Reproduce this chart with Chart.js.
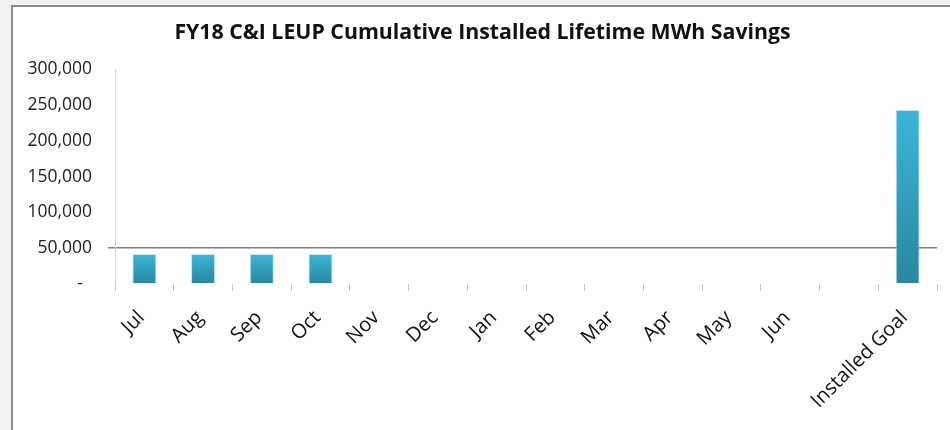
<!DOCTYPE html>
<html>
<head>
<meta charset="utf-8">
<script src="https://cdn.jsdelivr.net/npm/chart.js@4.4.0/dist/chart.umd.min.js"></script>
<style>
  html, body { margin: 0; padding: 0; background: #f1f1f1; }
  body { width: 950px; height: 430px; position: relative; overflow: hidden; }
  #frame {
    position: absolute; left: 11px; top: 5px; width: 960px; height: 450px;
    background: #fff; border-left: 2px solid #8c8c8c; border-top: 2px solid #8c8c8c;
  }
  #wrap { position: absolute; left: 0; top: 0; width: 950px; height: 430px; }
</style>
</head>
<body>
<div id="frame"></div>
<div id="wrap"><canvas id="chart" width="950" height="430"></canvas></div>
<script>
const months = ["Jul", "Aug", "Sep", "Oct", "Nov", "Dec", "Jan", "Feb", "Mar", "Apr", "May", "Jun", "", "Installed Goal"];
const savings = [42000, 42000, 42000, 42000, 0, 0, 0, 0, 0, 0, 0, 0, null, 243000];
const yTicks = [0, 50000, 100000, 150000, 200000, 250000, 300000];
const goalLine = 50000;

const fontFamily = "'Open Sans', 'DejaVu Sans', sans-serif";

// each bar gets its own top-to-bottom shading
function barGradient(context) {
  const chart = context.chart;
  const area = chart.chartArea;
  if (!area || context.raw == null) return "#33a9c9";
  const y = chart.scales.y;
  const top = y.getPixelForValue(context.raw);
  if (area.bottom - top < 1) return "#2a879f";
  const g = chart.ctx.createLinearGradient(0, top, 0, area.bottom);
  g.addColorStop(0, "#3bb6d9");
  g.addColorStop(1, "#2a879f");
  return g;
}

const ctx = document.getElementById("chart");
new Chart(ctx, {
  type: "bar",
  data: {
    labels: months,
    datasets: [
      {
        data: savings,
        backgroundColor: barGradient,
        borderColor: "rgba(170, 220, 236, 0.7)",
        borderWidth: 1,
        barPercentage: 0.41,
        categoryPercentage: 1,
      },
    ],
  },
  options: {
    responsive: false,
    animation: false,
    layout: { padding: { left: 28, right: 13, top: 0, bottom: 0 } },
    plugins: {
      legend: { display: false },
      tooltip: { enabled: false },
      title: {
        display: true,
        text: "FY18 C&I LEUP Cumulative Installed Lifetime MWh Savings",
        color: "#111",
        font: { family: fontFamily, size: 21.3, weight: "bold", lineHeight: 1.2 },
        padding: { top: 20, bottom: 23.5 },
      },
    },
    scales: {
      x: {
        offset: true,
        border: { display: false },
        grid: {
          offset: true,
          drawOnChartArea: false,
          drawTicks: true,
          tickLength: 7,
          color: "#c8c8c8",
        },
        ticks: {
          color: "#111",
          font: { family: fontFamily, size: 20 },
          minRotation: 45,
          maxRotation: 45,
          autoSkip: false,
          padding: 15,
          labelOffset: -3,
        },
        afterFit: (scale) => {
          scale.height = 146;
        },
      },
      y: {
        min: 0,
        max: 300000,
        z: 1,
        afterBuildTicks: (scale) => {
          scale.ticks = yTicks.map((v) => ({ value: v }));
        },
        afterFit: (scale) => {
          scale.width = 87;
        },
        border: { display: true, color: "#d4d4d4", width: 1 },
        grid: {
          drawTicks: true,
          tickLength: 7,
          color: (c) => (c.tick && c.tick.value === goalLine ? "#7f7f7f" : "rgba(0,0,0,0)"),
          lineWidth: 1.5,
        },
        ticks: {
          color: "#222",
          font: { family: fontFamily, size: 17.5 },
          padding: 16,
          callback: (v) => (v === 0 ? "-  " : Number(v).toLocaleString("en-US")),
        },
      },
    },
  },
});
</script>
</body>
</html>
